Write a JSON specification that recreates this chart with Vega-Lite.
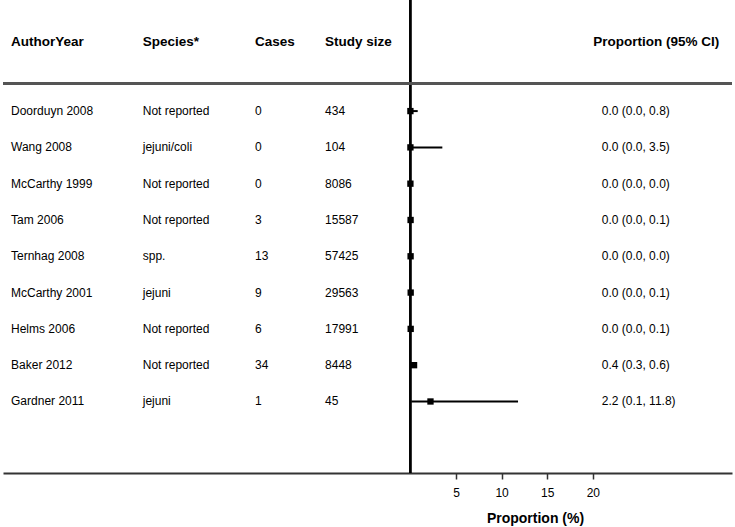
{
  "$schema": "https://vega.github.io/schema/vega-lite/v6.json",
  "width": 729,
  "height": 473,
  "autosize": {"type": "none"},
  "padding": {"left": 3, "right": 3, "top": 0, "bottom": 54},
  "background": "white",
  "config": {
    "font": "Liberation Sans",
    "view": {"stroke": null},
    "text": {"font": "Liberation Sans"}
  },
  "data": {
    "values": [
      {"order": 1, "author": "Doorduyn 2008", "species": "Not reported", "cases": "0", "size": "434", "est": 0.0, "lo": 0.0, "hi": 0.8, "label": "0.0 (0.0, 0.8)"},
      {"order": 2, "author": "Wang 2008", "species": "jejuni/coli", "cases": "0", "size": "104", "est": 0.0, "lo": 0.0, "hi": 3.5, "label": "0.0 (0.0, 3.5)"},
      {"order": 3, "author": "McCarthy 1999", "species": "Not reported", "cases": "0", "size": "8086", "est": 0.0, "lo": 0.0, "hi": 0.0, "label": "0.0 (0.0, 0.0)"},
      {"order": 4, "author": "Tam 2006", "species": "Not reported", "cases": "3", "size": "15587", "est": 0.02, "lo": 0.0, "hi": 0.1, "label": "0.0 (0.0, 0.1)"},
      {"order": 5, "author": "Ternhag 2008", "species": "spp.", "cases": "13", "size": "57425", "est": 0.02, "lo": 0.0, "hi": 0.0, "label": "0.0 (0.0, 0.0)"},
      {"order": 6, "author": "McCarthy 2001", "species": "jejuni", "cases": "9", "size": "29563", "est": 0.03, "lo": 0.0, "hi": 0.1, "label": "0.0 (0.0, 0.1)"},
      {"order": 7, "author": "Helms 2006", "species": "Not reported", "cases": "6", "size": "17991", "est": 0.03, "lo": 0.0, "hi": 0.1, "label": "0.0 (0.0, 0.1)"},
      {"order": 8, "author": "Baker 2012", "species": "Not reported", "cases": "34", "size": "8448", "est": 0.4, "lo": 0.3, "hi": 0.6, "label": "0.4 (0.3, 0.6)"},
      {"order": 9, "author": "Gardner 2011", "species": "jejuni", "cases": "1", "size": "45", "est": 2.2, "lo": 0.1, "hi": 11.8, "label": "2.2 (0.1, 11.8)"}
    ]
  },
  "resolve": {"scale": {"y": "shared", "x": "shared"}},
  "layer": [
    {
      "mark": {"type": "rule", "color": "#000000", "strokeWidth": 2},
      "encoding": {
        "y": {"field": "order", "type": "quantitative", "scale": {"domain": [-2.06, 10.97], "reverse": true, "nice": false, "zero": false}, "axis": null},
        "x": {"field": "lo", "type": "quantitative", "scale": {"domain": [-44.67, 35.26], "nice": false, "zero": false},
          "axis": {
            "values": [5, 10, 15, 20],
            "grid": false,
            "domainColor": "#333333",
            "domainWidth": 2,
            "tickColor": "#333333",
            "tickWidth": 1.5,
            "tickSize": 6,
            "labelFont": "Liberation Sans",
            "labelFontSize": 12,
            "labelColor": "#000000",
            "labelPadding": 8,
            "title": "Proportion (%)",
            "titleFont": "Liberation Sans",
            "titleFontSize": 14,
            "titleFontWeight": "bold",
            "titleColor": "#000000",
            "titleX": 532,
            "titleAlign": "center",
            "titlePadding": 13
          }
        },
        "x2": {"field": "hi"}
      }
    },
    {
      "mark": {"type": "rule", "color": "#000000", "strokeWidth": 1.5},
      "encoding": {"x": {"datum": 0}, "y": {"value": 0}, "y2": {"value": 473}}
    },
    {
      "mark": {"type": "rule", "color": "#555555", "strokeWidth": 1.8},
      "encoding": {"y": {"datum": 0.24}}
    },
    {
      "mark": {"type": "point", "shape": "square", "filled": true, "size": 40, "color": "#000000", "opacity": 1},
      "encoding": {"x": {"field": "est", "type": "quantitative"}, "y": {"field": "order", "type": "quantitative"}}
    },
    {
      "mark": {"type": "text", "align": "left", "baseline": "middle", "fontSize": 12, "color": "#000000"},
      "encoding": {"x": {"datum": -43.79}, "y": {"field": "order", "type": "quantitative"}, "text": {"field": "author"}}
    },
    {
      "mark": {"type": "text", "align": "left", "baseline": "middle", "fontSize": 12, "color": "#000000"},
      "encoding": {"x": {"datum": -29.35}, "y": {"field": "order", "type": "quantitative"}, "text": {"field": "species"}}
    },
    {
      "mark": {"type": "text", "align": "left", "baseline": "middle", "fontSize": 12, "color": "#000000"},
      "encoding": {"x": {"datum": -17.04}, "y": {"field": "order", "type": "quantitative"}, "text": {"field": "cases"}}
    },
    {
      "mark": {"type": "text", "align": "left", "baseline": "middle", "fontSize": 12, "color": "#000000"},
      "encoding": {"x": {"datum": -9.36}, "y": {"field": "order", "type": "quantitative"}, "text": {"field": "size"}}
    },
    {
      "mark": {"type": "text", "align": "left", "baseline": "middle", "fontSize": 12, "color": "#000000"},
      "encoding": {"x": {"datum": 20.98}, "y": {"field": "order", "type": "quantitative"}, "text": {"field": "label"}}
    },
    {
      "data": {"values": [
        {"head": "AuthorYear", "pos": -43.79},
        {"head": "Species*", "pos": -29.35},
        {"head": "Cases", "pos": -17.04},
        {"head": "Study size", "pos": -9.36}
      ]},
      "mark": {"type": "text", "align": "left", "baseline": "middle", "fontSize": 13.5, "fontWeight": "bold", "color": "#000000"},
      "encoding": {"x": {"field": "pos", "type": "quantitative"}, "y": {"datum": -0.91}, "text": {"field": "head"}}
    },
    {
      "data": {"values": [{"head": "Proportion (95% CI)"}]},
      "mark": {"type": "text", "align": "right", "baseline": "middle", "fontSize": 13.5, "fontWeight": "bold", "color": "#000000"},
      "encoding": {"x": {"datum": 33.87}, "y": {"datum": -0.91}, "text": {"field": "head"}}
    }
  ]
}
